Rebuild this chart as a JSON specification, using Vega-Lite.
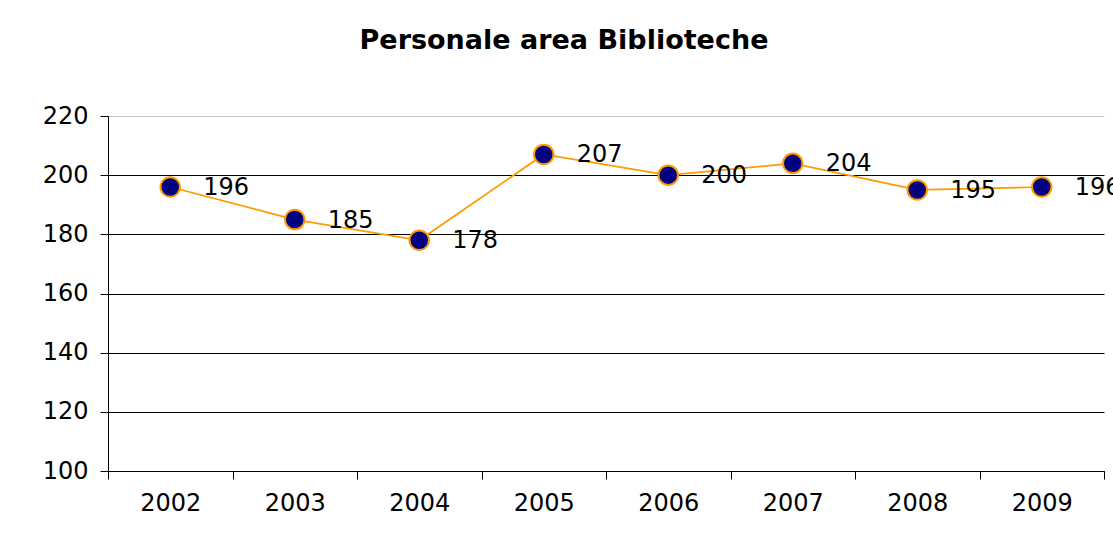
{
  "$schema": "https://vega.github.io/schema/vega-lite/v6.json",
  "autosize": "none",
  "width": 996,
  "height": 355,
  "padding": {"left": 108, "top": 116, "right": 9, "bottom": 72},
  "background": "white",
  "title": {
    "text": "Personale area Biblioteche",
    "font": "DejaVu Sans",
    "fontSize": 27,
    "fontWeight": "bold",
    "color": "black",
    "anchor": "middle",
    "baseline": "alphabetic",
    "dx": -42,
    "offset": 28,
    "limit": 2000
  },
  "data": {
    "values": [
      {"anno": "2002", "personale": 196},
      {"anno": "2003", "personale": 185},
      {"anno": "2004", "personale": 178},
      {"anno": "2005", "personale": 207},
      {"anno": "2006", "personale": 200},
      {"anno": "2007", "personale": 204},
      {"anno": "2008", "personale": 195},
      {"anno": "2009", "personale": 196}
    ]
  },
  "config": {
    "view": {"stroke": null},
    "axis": {"labelFont": "DejaVu Sans", "labelFontSize": 24, "labelColor": "black", "domainColor": "black", "tickColor": "black"}
  },
  "encoding": {
    "x": {
      "field": "anno",
      "type": "ordinal",
      "scale": {"paddingInner": 0, "paddingOuter": 0},
      "axis": {"title": null, "labelAngle": 0, "tickBand": "extent", "tickSize": 8, "labelPadding": 12, "grid": false, "domainWidth": 1}
    },
    "y": {
      "field": "personale",
      "type": "quantitative",
      "scale": {"domain": [100, 220], "nice": false, "zero": false},
      "axis": {
        "title": null,
        "values": [100, 120, 140, 160, 180, 200, 220],
        "tickSize": 8,
        "labelPadding": 12,
        "grid": true,
        "gridColor": {"condition": {"test": "datum.value == 220", "value": "#c8c8c8"}, "value": "black"},
        "gridWidth": 1
      }
    }
  },
  "layer": [
    {"mark": {"type": "line", "color": "#FF9900", "strokeWidth": 1.75}},
    {"mark": {"type": "point", "shape": "circle", "filled": true, "size": 380, "fill": "#000080", "stroke": "#FF9900", "strokeWidth": 2, "opacity": 1}},
    {"mark": {"type": "text", "align": "left", "baseline": "middle", "dx": 33, "dy": 1, "font": "DejaVu Sans", "fontSize": 24, "color": "black"},
     "encoding": {"text": {"field": "personale", "type": "quantitative"}}}
  ]
}
